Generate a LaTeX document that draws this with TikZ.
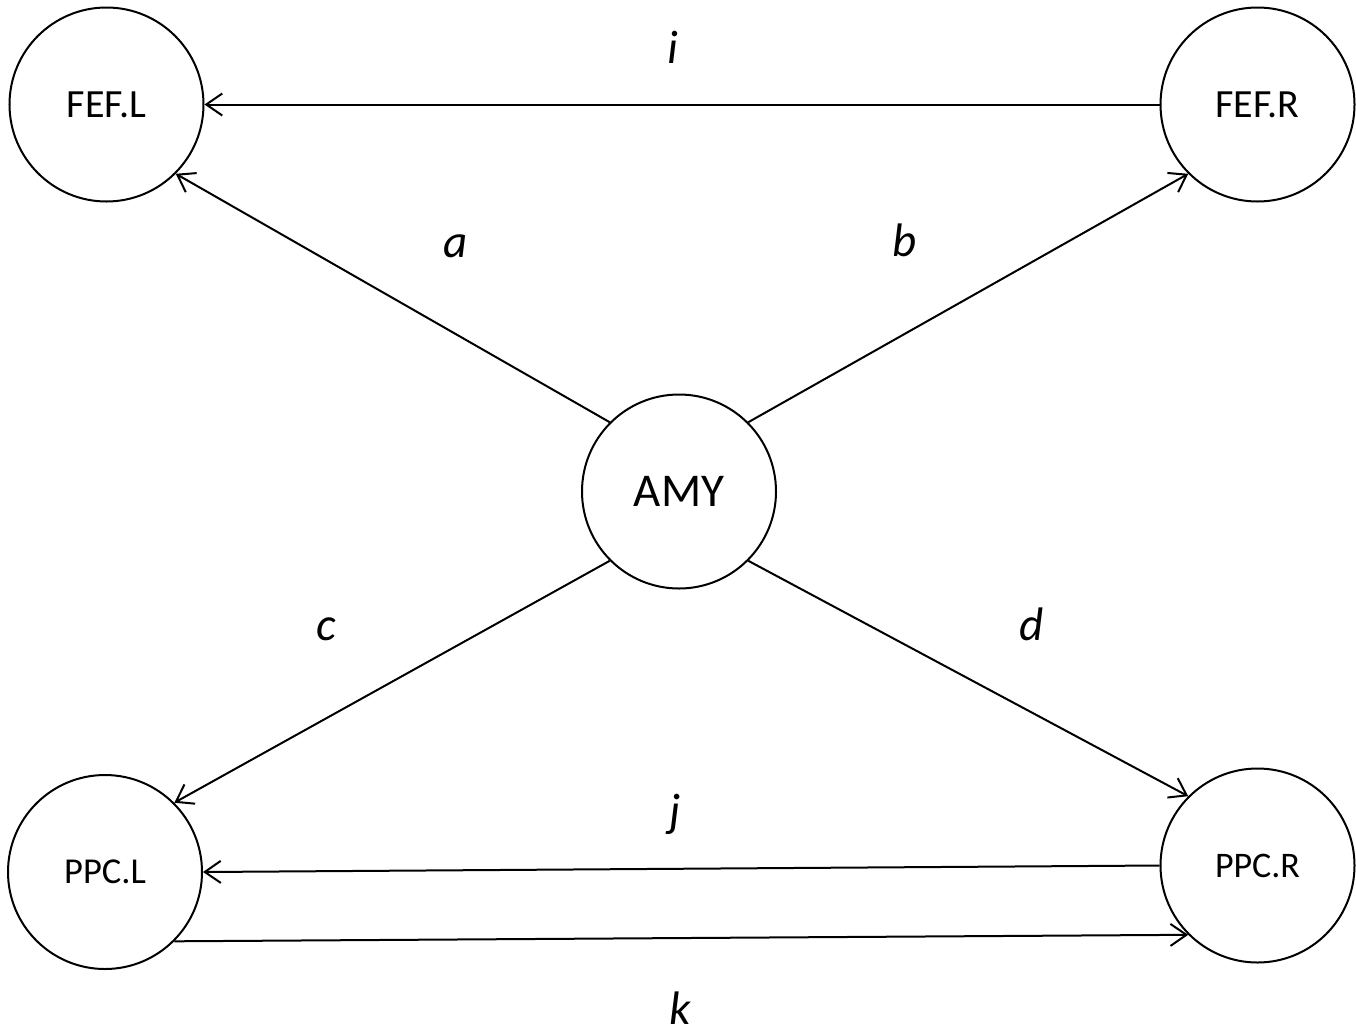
\documentclass[tikz,border=0pt]{standalone}
\usepackage{fontspec}
\setmainfont{Carlito}
\usetikzlibrary{arrows.meta}
\begin{document}
\begin{tikzpicture}[x=1pt,y=-1pt,
  region/.style={circle,draw,line width=2pt,minimum size=194pt,inner sep=0pt},
  conn/.style={line width=2pt,-{Straight Barb[length=16pt,width=22pt,line width=2pt]}},
  lbl/.style={font=\fontsize{47}{50}\selectfont\itshape,inner sep=0pt,anchor=base}]
\useasboundingbox (0,0) rectangle (1356,1034);
\node[region,font=\fontsize{40}{44}\selectfont] (fefl) at (106.5,104.5) {FEF.L};
\node[region,font=\fontsize{40}{44}\selectfont] (fefr) at (1257.5,104.5) {FEF.R};
\node[region,font=\fontsize{47}{50}\selectfont] (amy) at (679,491.5) {AMY};
\node[region,font=\fontsize{36.5}{40}\selectfont] (ppcl) at (105,872) {PPC.L};
\node[region,font=\fontsize{36}{40}\selectfont] (ppcr) at (1257.5,865.5) {PPC.R};
\draw[conn] (fefr.west) -- (fefl.east);
\draw[conn] (amy.135) -- (fefl.-45);
\draw[conn] (amy.45) -- (fefr.-135);
\draw[conn] (amy.-135) -- (ppcl.45);
\draw[conn] (amy.-45) -- (ppcr.135);
\draw[conn] (ppcr.west) -- (ppcl.east);
\draw[conn] (ppcl.-45) -- (ppcr.-135);
\node[lbl] (li) at (673,63) {i};
\node[lbl] (la) at (456,257) {a};
\node[lbl] (lb) at (905,256) {b};
\node[lbl] (lc) at (326,640) {c};
\node[lbl] (ld) at (1032,640) {d};
\node[lbl] (lj) at (675,826) {j};
\node[lbl] (lk) at (680,1024) {k};
\end{tikzpicture}
\end{document}
